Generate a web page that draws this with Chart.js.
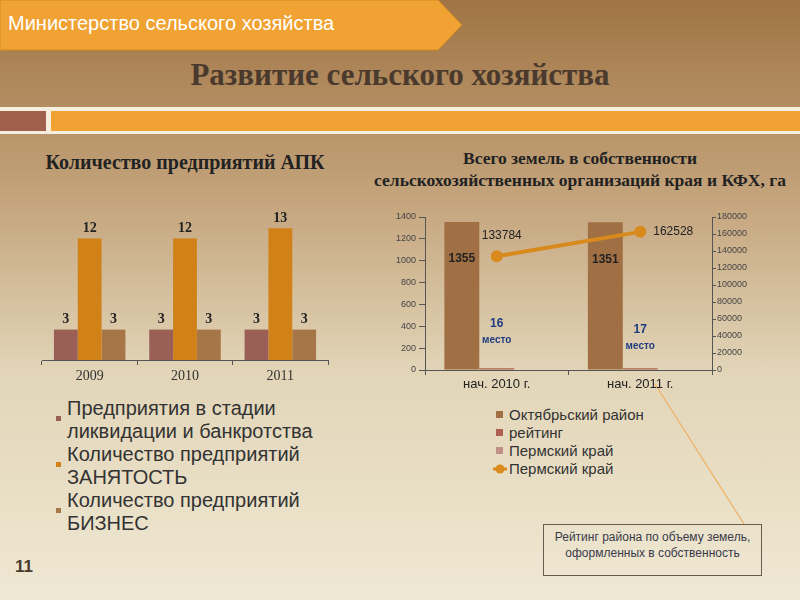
<!DOCTYPE html>
<html>
<head>
<meta charset="utf-8">
<script src="https://cdn.jsdelivr.net/npm/chart.js@4/dist/chart.umd.min.js"></script>
<style>
  html, body { margin: 0; padding: 0; }
  body {
    width: 800px; height: 600px; position: relative; overflow: hidden;
    background: linear-gradient(to bottom, #a07444 0%, #c4a47c 33%, #e2d5b8 62%, #efe8d3 100%);
    font-family: Arial, "Liberation Sans", sans-serif;
  }
  .abs { position: absolute; }
  #hdrText { left: 8px; top: 12px; color: #fff; font-size: 20px; white-space: nowrap; }
  #title { left: 0; width: 800px; top: 57px; text-align: center; font-family: "Liberation Serif", serif;
           font-weight: bold; font-size: 31px; color: #4a3a2e; }
  .ctitle { font-family: "Liberation Serif", serif; font-weight: bold; color: #222; text-align: center; white-space: nowrap; }
  .leg { font-size: 20px; color: #333; line-height: 23px; }
  .leg .it { position: relative; padding-left: 11px; }
  .leg .sq { position: absolute; left: 0; top: 19px; width: 5px; height: 5px; }
  .leg2 { font-size: 15px; color: #333; line-height: 18px; }
  .leg2 .it { position: relative; padding-left: 13px; }
  .leg2 .sq { position: absolute; left: 0; top: 5px; width: 7px; height: 7px; }
  #box { left: 543px; top: 524px; width: 219px; height: 52px; border: 1px solid #6a5a50;
         font-size: 12px; color: #3a3a4a; text-align: center; line-height: 16px; padding-top: 4px; box-sizing: border-box; }
</style>
</head>
<body>
<svg class="abs" style="left:0;top:0" width="800" height="600">
  <polygon points="0,0 438,0 462,25 438,50 0,50" fill="#f0a232" stroke="#d48a20" stroke-width="1"/>
  <rect x="0" y="107" width="800" height="27" fill="#f6efe0"/>
  <rect x="0" y="111" width="46" height="20" fill="#a0604c"/>
  <rect x="51" y="111" width="749" height="20" fill="#f0a232"/>
  <line x1="655" y1="384" x2="744" y2="524" stroke="#f0b060" stroke-width="1.2"/>
</svg>
<div id="hdrText" class="abs">Министерство сельского хозяйства</div>
<div id="title" class="abs">Развитие сельского хозяйства</div>

<div class="abs ctitle" style="left:35px;width:300px;top:151px;font-size:20px;">Количество предприятий АПК</div>
<div class="abs ctitle" style="left:350px;width:460px;top:147px;font-size:17.5px;line-height:22px;">Всего земель в собственности<br>сельскохозяйственных организаций края и КФХ, га</div>

<div class="abs" style="left:30px;top:205px;width:310px;height:190px;"><canvas id="apk"></canvas></div>
<div class="abs" style="left:360px;top:207px;width:402px;height:193px;"><canvas id="land"></canvas></div>

<div class="abs leg" id="leg1" style="left:56px;top:397px;"></div>
<div class="abs leg2" id="leg2" style="left:496px;top:406px;"></div>
<div class="abs" id="box">Рейтинг района по объему земель,<br>оформленных в собственность</div>
<div class="abs" style="left:15px;top:557px;font-size:17px;font-weight:bold;color:#4a3a2e;">11</div>

<script>
// Данные: количество предприятий АПК
var anios = ["2009", "2010", "2011"];
var liquidacion = [3, 3, 3];
var empleo = [12, 12, 13];
var negocio = [3, 3, 3];
var seriesApk = ["Предприятия в стадии\nликвидации и банкротства", "Количество предприятий\nЗАНЯТОСТЬ", "Количество предприятий\nБИЗНЕС"];
var coloresApk = ["#9a6056", "#d08218", "#a67648"];

// Данные: земли в собственности
var periodos = ["нач. 2010 г.", "нач. 2011 г."];
var tierrasRayon = [1355, 1351];
var rating = [16, 17];
var permBar = [null, null];
var permLinea = [133784, 162528];
var ticksIzq = [0, 200, 400, 600, 800, 1000, 1200, 1400];
var ticksDer = [0, 20000, 40000, 60000, 80000, 100000, 120000, 140000, 160000, 180000];
var seriesLand = ["Октябрьский район", "рейтинг", "Пермский край", "Пермский край"];
var coloresLand = ["#a07044", "#b06050", "#c09088", "#d88a1c"];

// Leyendas HTML
var leg1 = document.getElementById('leg1');
seriesApk.forEach(function (s, i) {
    var d = document.createElement('div');
    d.className = 'it';
    d.innerHTML = '<span class="sq" style="background:' + coloresApk[i] + '"></span>' + s.replace('\n', '<br>');
    leg1.appendChild(d);
});
var leg2 = document.getElementById('leg2');
seriesLand.forEach(function (s, i) {
    var d = document.createElement('div');
    d.className = 'it';
    var marca = i < 3
        ? '<span class="sq" style="background:' + coloresLand[i] + '"></span>'
        : '<svg style="position:absolute;left:-3px;top:3px" width="14" height="12"><line x1="0" y1="6" x2="14" y2="6" stroke="' + coloresLand[i] + '" stroke-width="3"/><circle cx="7" cy="6" r="4.5" fill="' + coloresLand[i] + '"/></svg>';
    d.innerHTML = marca + s;
    leg2.appendChild(d);
});

// Plugin para etiquetas sobre las barras
var etiquetasApk = {
    id: 'etiquetasApk',
    afterDatasetsDraw: function (chart) {
        var ctx = chart.ctx;
        ctx.save();
        ctx.font = 'bold 14px "Liberation Serif", serif';
        ctx.fillStyle = '#222';
        ctx.textAlign = 'center';
        ctx.textBaseline = 'bottom';
        chart.data.datasets.forEach(function (ds, i) {
            chart.getDatasetMeta(i).data.forEach(function (bar, j) {
                ctx.fillText(ds.data[j], bar.x, bar.y - 3);
            });
        });
        ctx.restore();
    }
};

new Chart(document.getElementById('apk').getContext('2d'), {
    type: 'bar',
    data: {
        labels: anios,
        datasets: [
            { label: seriesApk[0], data: liquidacion, backgroundColor: coloresApk[0] },
            { label: seriesApk[1], data: empleo, backgroundColor: coloresApk[1] },
            { label: seriesApk[2], data: negocio, backgroundColor: coloresApk[2] }
        ]
    },
    options: {
        responsive: true,
        maintainAspectRatio: false,
        animation: false,
        layout: { padding: { left: 12, right: 12, top: 0, bottom: 0 } },
        plugins: { legend: { display: false }, tooltip: { enabled: false } },
        datasets: { bar: { categoryPercentage: 0.75, barPercentage: 1 } },
        scales: {
            x: {
                grid: { drawOnChartArea: false, drawTicks: true, tickLength: 5, color: '#555' },
                border: { display: true, color: '#555' },
                ticks: { color: '#333', font: { family: '"Liberation Serif", serif', size: 14 }, padding: 3 },
                afterFit: function (s) { s.height = 35; }
            },
            y: { display: false, min: 0, max: 15.3 }
        }
    },
    plugins: [etiquetasApk]
});

// Plugin para etiquetas del segundo gráfico
var etiquetasLand = {
    id: 'etiquetasLand',
    afterDatasetsDraw: function (chart, args, opts) {
        var ctx = chart.ctx;
        var base = chart.scales.y.getPixelForValue(0);
        ctx.save();
        ctx.textBaseline = 'middle';
        // valores dentro de las barras
        ctx.font = 'bold 12px Arial, sans-serif';
        ctx.fillStyle = '#222';
        ctx.textAlign = 'center';
        chart.getDatasetMeta(0).data.forEach(function (bar, j) {
            ctx.fillText(tierrasRayon[j], bar.x, bar.y + 37);
        });
        // rating
        ctx.fillStyle = '#1e3c82';
        chart.getDatasetMeta(1).data.forEach(function (bar, j) {
            ctx.font = 'bold 12px Arial, sans-serif';
            ctx.fillText(rating[j], bar.x, base - 46 + opts.ratingDy[j]);
            ctx.font = 'bold 10px Arial, sans-serif';
            ctx.fillText('место', bar.x, base - 30 + opts.ratingDy[j]);
        });
        // valores de la línea
        ctx.font = '12px Arial, sans-serif';
        ctx.fillStyle = '#222';
        ctx.textAlign = 'left';
        chart.getDatasetMeta(3).data.forEach(function (pt, j) {
            ctx.fillText(permLinea[j], pt.x + opts.lineDx[j], pt.y + opts.lineDy[j]);
        });
        ctx.restore();
    }
};

function sinSeparador(v) { return String(v); }

new Chart(document.getElementById('land').getContext('2d'), {
    type: 'bar',
    data: {
        labels: periodos,
        datasets: [
            { label: seriesLand[0], data: tierrasRayon, backgroundColor: coloresLand[0], yAxisID: 'y', order: 1 },
            { label: seriesLand[1], data: rating, backgroundColor: coloresLand[1], yAxisID: 'y', order: 1 },
            { label: seriesLand[2], data: permBar, backgroundColor: coloresLand[2], yAxisID: 'y', order: 1 },
            { type: 'line', label: seriesLand[3], data: permLinea, yAxisID: 'y1', order: 0,
              borderColor: coloresLand[3], backgroundColor: coloresLand[3], borderWidth: 4,
              pointRadius: 6, pointBackgroundColor: coloresLand[3], pointBorderWidth: 0 }
        ]
    },
    options: {
        responsive: true,
        maintainAspectRatio: false,
        animation: false,
        layout: { padding: { top: 10, left: 0, right: 0, bottom: 0 } },
        plugins: {
            legend: { display: false }, tooltip: { enabled: false },
            etiquetasLand: { ratingDy: [0, 6], lineDx: [-15, 13], lineDy: [-21, 0] }
        },
        datasets: { bar: { categoryPercentage: 0.73, barPercentage: 1 } },
        scales: {
            x: {
                grid: { drawOnChartArea: false, drawTicks: true, tickLength: 5, color: '#555' },
                border: { display: true, color: '#555' },
                ticks: { color: '#222', font: { family: 'Arial, sans-serif', size: 13 }, padding: 2 },
                afterFit: function (s) { s.height = 30; }
            },
            y: {
                position: 'left', min: 0, max: 1400,
                afterBuildTicks: function (s) { s.ticks = ticksIzq.map(function (v) { return { value: v }; }); },
                grid: { drawOnChartArea: false, tickLength: 6, color: '#555' },
                border: { display: true, color: '#555' },
                ticks: { color: '#444', font: { family: 'Arial, sans-serif', size: 9 }, padding: 3, callback: sinSeparador },
                afterFit: function (s) { s.width = 65; }
            },
            y1: {
                position: 'right', min: 0, max: 180000,
                afterBuildTicks: function (s) { s.ticks = ticksDer.map(function (v) { return { value: v }; }); },
                grid: { drawOnChartArea: false, tickLength: 4, color: '#555' },
                border: { display: true, color: '#555' },
                ticks: { color: '#444', font: { family: 'Arial, sans-serif', size: 9 }, padding: 1, callback: sinSeparador },
                afterFit: function (s) { s.width = 50; }
            }
        }
    },
    plugins: [etiquetasLand]
});
</script>
</body>
</html>
